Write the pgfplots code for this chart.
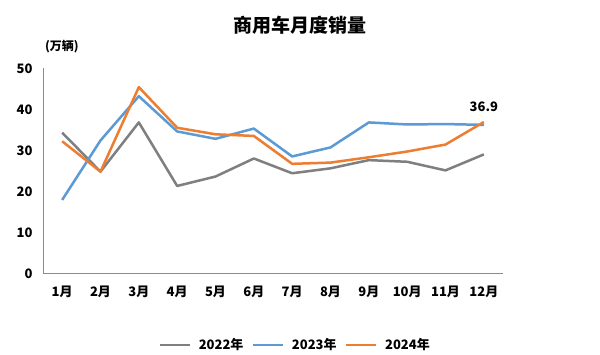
\documentclass[border=0pt]{standalone}
\usepackage{fontspec}
\setmainfont{Noto Sans CJK SC}
\usepackage{pgfplots}
\pgfplotsset{compat=1.18}
\definecolor{cgray}{HTML}{7F7F7F}
\definecolor{cblue}{HTML}{5B9BD5}
\definecolor{corange}{HTML}{ED7D31}
\begin{document}
\begin{tikzpicture}[x=1pt,y=1pt]
\path[use as bounding box,fill=white] (0,0) rectangle (600,355);
\begin{axis}[
  at={(43pt,81.7pt)}, anchor=south west,
  scale only axis, width=460pt, height=205pt,
  xmin=0.5, xmax=12.5, ymin=0, ymax=50,
  xtick={1,...,12},
  xticklabels={1月,2月,3月,4月,5月,6月,7月,8月,9月,10月,11月,12月},
  ytick={0,10,...,50},
  axis x line*=bottom, axis y line*=left,
  axis line style={draw=black!45, line width=0.8pt, -},
  major tick length=0pt,
  tick label style={font=\fontsize{13}{15}\selectfont\bfseries},
  /pgf/number format/assume math mode=true,
  xticklabel style={yshift=-9pt},
  yticklabel style={xshift=-7pt},
  clip=false,
  legend columns=3,
  legend style={draw=none, at={(axis description cs:0.548,-0.35)}, anchor=center,
    font=\fontsize{13}{15}\selectfont\bfseries, column sep=6pt},
  legend image code/.code={\draw[#1] (0pt,0pt) -- (30pt,0pt);},
  every axis plot/.append style={line width=2.5pt, line join=round},
]
\addplot[cgray] coordinates {(1,34.3)(2,24.8)(3,36.8)(4,21.3)(5,23.6)(6,28.0)(7,24.4)(8,25.6)(9,27.6)(10,27.2)(11,25.1)(12,29.0)};
\addlegendentry{2022年}
\addplot[cblue] coordinates {(1,17.9)(2,32.4)(3,43.2)(4,34.6)(5,32.8)(6,35.3)(7,28.5)(8,30.7)(9,36.8)(10,36.3)(11,36.4)(12,36.2)};
\addlegendentry{2023年}
\addplot[corange] coordinates {(1,32.2)(2,24.8)(3,45.4)(4,35.5)(5,33.9)(6,33.5)(7,26.7)(8,27.0)(9,28.3)(10,29.7)(11,31.4)(12,36.9)};
\addlegendentry{2024年}
\node[above, font=\fontsize{13}{15}\selectfont\bfseries, yshift=7pt] at (axis cs:12,36.9) {36.9};
\node[font=\fontsize{19}{22}\selectfont\bfseries] at (axis description cs:0.559,1.21) {商用车月度销量};
\node[font=\fontsize{12}{14}\selectfont\bfseries] at (axis description cs:0.041,1.104) {(万辆)};
\end{axis}
\end{tikzpicture}
\end{document}
